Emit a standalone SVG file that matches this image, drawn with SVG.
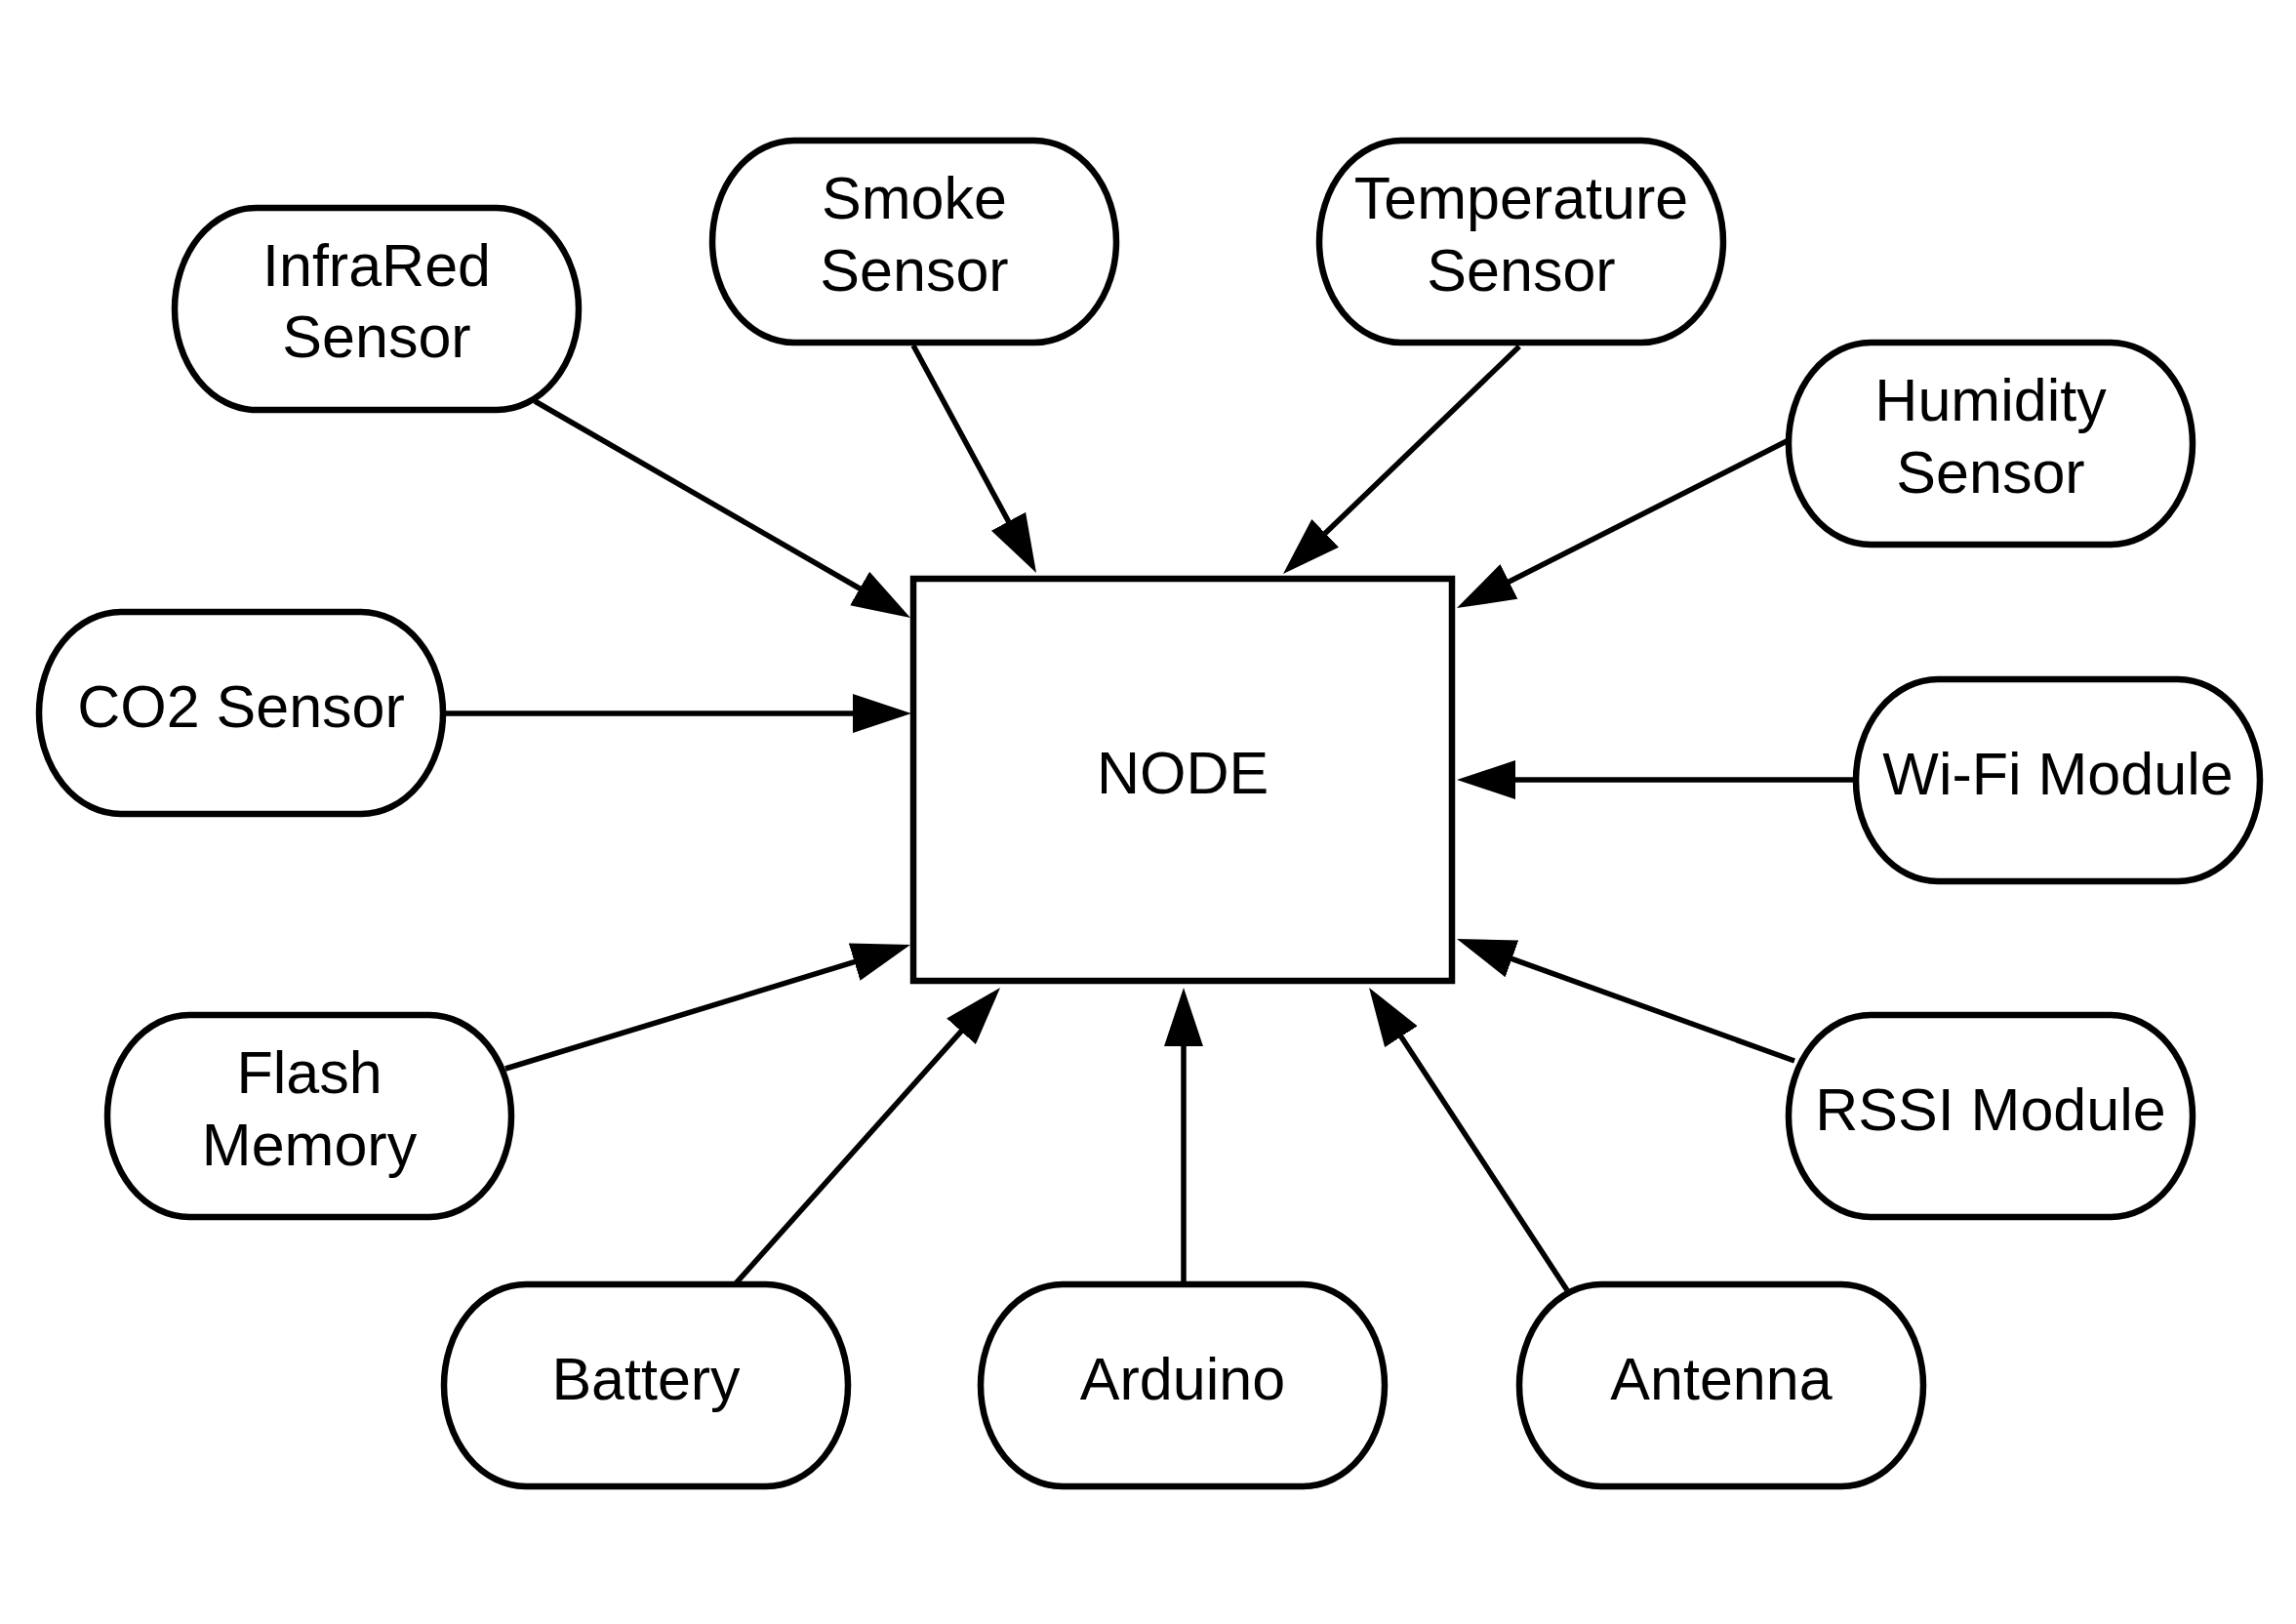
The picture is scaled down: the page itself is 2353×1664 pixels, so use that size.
<svg xmlns="http://www.w3.org/2000/svg" width="2353" height="1664" viewBox="0 0 2353 1664">
<style>
.n{fill:#fff;stroke:#000;stroke-width:6.5}
.t{font-family:"Liberation Sans",Arial,sans-serif;font-size:61px;fill:#000;text-anchor:middle}
.c{fill:none;stroke:#000;stroke-width:5.5}
</style>
<defs>
<marker id="ah" markerUnits="userSpaceOnUse" markerWidth="60" markerHeight="40" viewBox="0 0 60 40" refX="40" refY="20" orient="auto">
<path d="M0,0 L60,20 L0,40 Z" fill="#000"/>
</marker>
</defs>
<rect width="2353" height="1664" fill="#fff"/>
<g id="connectors">
<path class="c" marker-end="url(#ah)" d="M548,411 L915.7,623"/>
<path class="c" marker-end="url(#ah)" d="M936,354 L1052.5,569.4"/>
<path class="c" marker-end="url(#ah)" d="M1557,355 L1329.4,574.1"/>
<path class="c" marker-end="url(#ah)" d="M1833,451 L1510.8,614"/>
<path class="c" marker-end="url(#ah)" d="M455,731 L914,731"/>
<path class="c" marker-end="url(#ah)" d="M1902,799 L1513,799"/>
<path class="c" marker-end="url(#ah)" d="M518,1095 L913.9,973.9"/>
<path class="c" marker-end="url(#ah)" d="M754,1315 L1011.7,1026.9"/>
<path class="c" marker-end="url(#ah)" d="M1213,1315 L1213,1032"/>
<path class="c" marker-end="url(#ah)" d="M1606,1322 L1414,1028.7"/>
<path class="c" marker-end="url(#ah)" d="M1839,1087 L1511.8,968.8"/>
</g>
<g id="node">
<rect class="n" x="936" y="593" width="552" height="412"/>
<text class="t" x="1212" y="813">NODE</text>
</g>
<g id="infrared">
<path class="n" d="M263,213 H509 A84,103.5 0 0 1 509,420 H263 A84,103.5 0 0 1 263,213 Z"/>
<text class="t" x="386" y="292.5">InfraRed</text>
<text class="t" x="386" y="365.5">Sensor</text>
</g>
<g id="smoke">
<path class="n" d="M814,144 H1060 A84,103.5 0 0 1 1060,351 H814 A84,103.5 0 0 1 814,144 Z"/>
<text class="t" x="937" y="223.5">Smoke</text>
<text class="t" x="937" y="297.5">Sensor</text>
</g>
<g id="temperature">
<path class="n" d="M1436,144 H1682 A84,103.5 0 0 1 1682,351 H1436 A84,103.5 0 0 1 1436,144 Z"/>
<text class="t" x="1559" y="223.5">Temperature</text>
<text class="t" x="1559" y="297.5">Sensor</text>
</g>
<g id="humidity">
<path class="n" d="M1917,351 H2163 A84,103.5 0 0 1 2163,558 H1917 A84,103.5 0 0 1 1917,351 Z"/>
<text class="t" x="2040" y="430.5">Humidity</text>
<text class="t" x="2040" y="504.5">Sensor</text>
</g>
<g id="co2">
<path class="n" d="M124,627 H370 A84,103.5 0 0 1 370,834 H124 A84,103.5 0 0 1 124,627 Z"/>
<text class="t" x="247" y="744.5">CO2 Sensor</text>
</g>
<g id="wifi">
<path class="n" d="M1986,696 H2232 A84,103.5 0 0 1 2232,903 H1986 A84,103.5 0 0 1 1986,696 Z"/>
<text class="t" x="2109" y="813.5">Wi-Fi Module</text>
</g>
<g id="flash">
<path class="n" d="M194,1040 H440 A84,103.5 0 0 1 440,1247 H194 A84,103.5 0 0 1 194,1040 Z"/>
<text class="t" x="317" y="1119.5">Flash</text>
<text class="t" x="317" y="1193.5">Memory</text>
</g>
<g id="rssi">
<path class="n" d="M1917,1040 H2163 A84,103.5 0 0 1 2163,1247 H1917 A84,103.5 0 0 1 1917,1040 Z"/>
<text class="t" x="2040" y="1157.5">RSSI Module</text>
</g>
<g id="battery">
<path class="n" d="M539,1316 H785 A84,103.5 0 0 1 785,1523 H539 A84,103.5 0 0 1 539,1316 Z"/>
<text class="t" x="662" y="1433.5">Battery</text>
</g>
<g id="arduino">
<path class="n" d="M1089,1316 H1335 A84,103.5 0 0 1 1335,1523 H1089 A84,103.5 0 0 1 1089,1316 Z"/>
<text class="t" x="1212" y="1433.5">Arduino</text>
</g>
<g id="antenna">
<path class="n" d="M1641,1316 H1887 A84,103.5 0 0 1 1887,1523 H1641 A84,103.5 0 0 1 1641,1316 Z"/>
<text class="t" x="1764" y="1433.5">Antenna</text>
</g>
</svg>
